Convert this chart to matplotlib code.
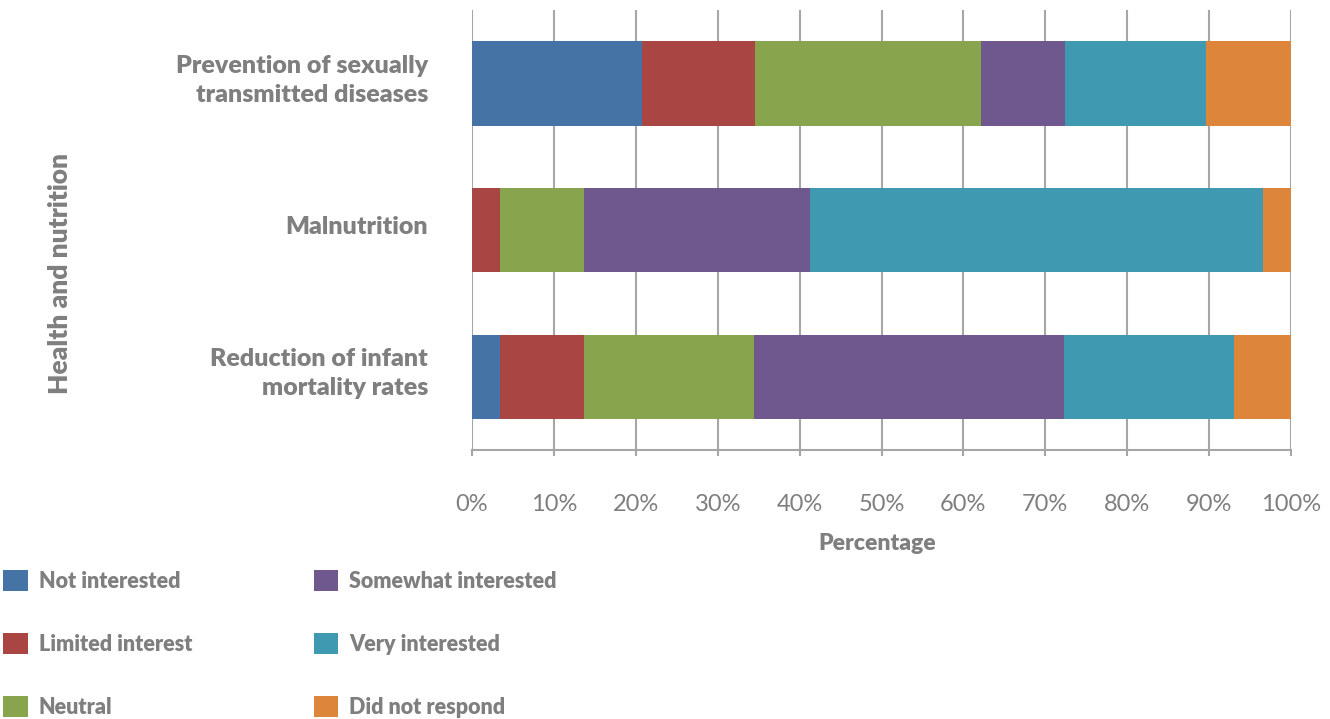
import matplotlib
matplotlib.use("Agg")
import matplotlib.pyplot as plt
import matplotlib.transforms as mtransforms
import numpy as np

plt.rcParams['font.family'] = ['Lato', 'DejaVu Sans']

categories = ["Prevention of sexually\ntransmitted diseases", "Malnutrition",
              "Reduction of infant\nmortality rates"]
series_names = ["Not interested", "Limited interest", "Neutral",
                "Somewhat interested", "Very interested", "Did not respond"]
not_interested = [20.7, 0.0, 3.4]
limited_interest = [13.8, 3.4, 10.3]
neutral = [27.6, 10.3, 20.7]
somewhat_interested = [10.3, 27.6, 37.9]
very_interested = [17.2, 55.3, 20.7]
did_not_respond = [10.4, 3.4, 7.0]
series_values = [not_interested, limited_interest, neutral,
                 somewhat_interested, very_interested, did_not_respond]
colors = ["#4573A5", "#A94543", "#88A54E", "#6F588D", "#3F9AB1", "#DD853B"]
xticks = list(range(0, 101, 10))
xtick_labels = [f"{t}%" for t in xticks]

gray = "#7F7F7F"
grid = "#A6A6A6"
BW = 'heavy'

fig = plt.figure(figsize=(13.3, 7.19), dpi=100)
ax = fig.add_axes([472/1330, 1-450/719, (1291-472)/1330, (450-10)/719])

y = np.arange(len(categories))
left = np.zeros(len(categories))
handles = []
for name, vals, c in zip(series_names, series_values, colors):
    b = ax.barh(y, vals, left=left, height=0.575, color=c, label=name, zorder=3)
    handles.append(b)
    left += np.array(vals)

ax.set_xlim(0, 100)
ax.set_ylim(-0.5, len(categories) - 0.5)
ax.invert_yaxis()
ax.set_xticks(xticks)
ax.set_xticklabels(xtick_labels, fontsize=17, color=gray, fontweight='normal')
ax.set_yticks(y)
ax.set_yticklabels([])
ax.tick_params(axis='y', length=0)

# category labels, right-aligned left of the axes, nudged slightly upward
lab_tr = ax.get_yaxis_transform() + mtransforms.ScaledTranslation(
    -44/100, 3/100, fig.dpi_scale_trans)
for yi, cat in zip(y, categories):
    ax.text(0, yi, cat, transform=lab_tr, ha='right', va='center',
            fontsize=18, color=gray, fontweight=BW, linespacing=1.42,
            multialignment='right')

ax.tick_params(axis='x', length=4, width=1.5, color=grid, direction='out', pad=28)
ax.grid(axis='x', color=grid, linewidth=1.5, zorder=0)
ax.set_axisbelow(True)
for s in ['top', 'right', 'left']:
    ax.spines[s].set_visible(False)
ax.spines['bottom'].set_color(grid)
ax.spines['bottom'].set_linewidth(1.5)

ax.set_xlabel("Percentage", fontsize=16.5, color=gray, fontweight=BW, labelpad=13)
ax.xaxis.label.set_x((877-472)/(1291-472))

fig.text(60/1330, 1-274/719, "Health and nutrition", rotation=90, fontsize=19,
         color=gray, fontweight=BW, ha='center', va='center')

leg = fig.legend(handles=handles, labels=series_names, ncol=2,
                 loc='upper left', bbox_to_anchor=(3/1330, 1-570/719),
                 frameon=False, fontsize=15.5, handlelength=1.15, handleheight=1.15,
                 handletextpad=0.5, labelspacing=1.9, columnspacing=5.65,
                 borderpad=0, borderaxespad=0)
for t in leg.get_texts():
    t.set_color(gray)
    t.set_fontweight(BW)

fig.savefig("out.png", dpi=100)
